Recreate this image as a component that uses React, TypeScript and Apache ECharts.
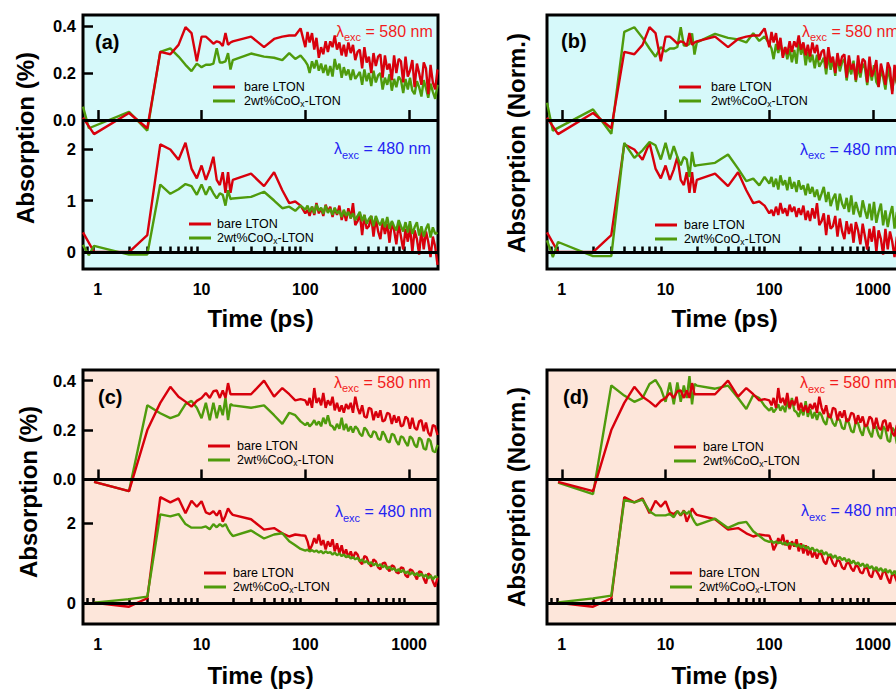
import React, { useEffect, useRef } from 'react';
import * as echarts from 'echarts';

// ---------- data ----------
const TIME_PS = [
  0.72, 0.82, 0.92, 2, 3, 4, 5, 6, 7, 8, 9, 10,
  11, 12, 13, 14, 15, 16, 17, 18, 19, 20,
  30, 40, 50, 60, 70, 80, 90, 100,
  105, 110, 116, 122, 128, 135, 142, 149, 157, 165,
  174, 183, 192, 202, 213, 224, 235, 247, 260, 274,
  288, 303, 319, 335, 353, 371, 390, 410, 432, 454,
  478, 503, 529, 556, 585, 616, 648, 682, 717, 754,
  794, 835, 878, 924, 972, 1020, 1075, 1130, 1190, 1250,
  1315, 1385, 1455, 1530, 1610, 1695, 1785, 1880,
];

// panel (a)/(b), lambda_exc = 580 nm, absorption (%)
const A_TOP_RED = [
  0.01, null, -0.06, 0.03, -0.035, 0.29, 0.28, 0.32, 0.395, 0.37, 0.25, 0.355,
  0.355, 0.34, 0.325, 0.335, 0.33, 0.315, 0.37, 0.32, 0.33, 0.335,
  0.355, 0.31, 0.345, 0.355, 0.36, 0.36, 0.39, 0.31,
  0.375, 0.33, 0.37, 0.30, 0.35, 0.265, 0.31, 0.28, 0.335, 0.29,
  0.335, 0.31, 0.36, 0.30, 0.33, 0.275, 0.32, 0.27, 0.33, 0.285,
  0.32, 0.255, 0.29, 0.30, 0.22, 0.31, 0.245, 0.27, 0.20, 0.285,
  0.23, 0.27, 0.28, 0.18, 0.275, 0.215, 0.24, 0.17, 0.275, 0.20,
  0.26, 0.25, 0.16, 0.27, 0.185, 0.21, 0.255, 0.14, 0.24, 0.20,
  0.15, 0.245, 0.22, 0.11, 0.235, 0.16, 0.13, 0.215,
];
const A_TOP_GREEN = [
  0.057, -0.035, null, 0.035, -0.045, 0.29, 0.305, 0.27, 0.235, 0.208, 0.24, 0.225,
  0.235, 0.235, 0.24, 0.305, 0.245, 0.245, 0.25, 0.285, 0.215, 0.255,
  0.283, 0.27, 0.265, 0.255, 0.285, 0.26, 0.275, 0.25,
  0.235, 0.20, 0.25, 0.22, 0.255, 0.21, 0.24, 0.20, 0.235, 0.19,
  0.23, 0.185, 0.26, 0.215, 0.24, 0.18, 0.225, 0.19, 0.215, 0.17,
  0.215, 0.175, 0.19, 0.205, 0.15, 0.215, 0.165, 0.20, 0.145, 0.21,
  0.16, 0.19, 0.20, 0.13, 0.18, 0.15, 0.195, 0.125, 0.175, 0.14,
  0.185, 0.17, 0.115, 0.175, 0.13, 0.18, 0.125, 0.11, 0.165, 0.14,
  0.10, 0.17, 0.135, 0.095, 0.155, 0.12, 0.09, 0.15,
];
// panel (a)/(b), lambda_exc = 480 nm
const A_BOT_RED = [
  0.38, null, 0.0, 0.0, 0.33, 2.09, 1.99, 1.79, 2.12, 1.62, 1.43, 1.68,
  1.40, 1.60, 1.85, 1.40, 1.30, 1.55, 1.15, 1.55, 1.15, 1.40,
  1.52, 1.28, 1.55, 1.20, 0.95, 0.98, 0.90, 0.75,
  0.82, 0.70, 0.88, 0.72, 0.95, 0.75, 0.85, 0.70, 0.92, 0.78,
  0.88, 0.68, 0.85, 0.72, 0.90, 0.62, 0.80, 0.60, 0.85, 0.65,
  0.95, 0.52, 0.60, 0.75, 0.33, 0.72, 0.45, 0.50, 0.70, 0.30,
  0.65, 0.40, 0.25, 0.60, 0.35, 0.55, 0.18, 0.58, 0.42, 0.15,
  0.55, 0.30, 0.05, 0.45, 0.20, 0.50, 0.00, 0.42, 0.25, -0.05,
  0.45, 0.05, 0.40, 0.20, -0.10, 0.30, 0.10, -0.25,
];
const A_BOT_GREEN = [
  0.14, -0.06, 0.12, -0.05, -0.05, 1.31, 1.13, 1.22, 1.32, 1.28, 1.11, 1.31,
  1.11, 1.27, 1.14, 1.04, 1.14, 1.11, 0.90, 1.20, 1.03, 1.04,
  1.07, 1.17, 1.00, 0.85, 0.88, 0.80, 0.90, 0.82,
  0.90, 0.78, 0.88, 0.75, 0.92, 0.80, 0.86, 0.74, 0.90, 0.76,
  0.84, 0.72, 0.86, 0.75, 0.80, 0.68, 0.82, 0.70, 0.78, 0.66,
  0.75, 0.62, 0.70, 0.78, 0.60, 0.72, 0.55, 0.64, 0.70, 0.50,
  0.70, 0.58, 0.52, 0.65, 0.48, 0.68, 0.45, 0.60, 0.50, 0.42,
  0.62, 0.50, 0.40, 0.58, 0.38, 0.60, 0.35, 0.48, 0.58, 0.32,
  0.50, 0.30, 0.45, 0.55, 0.28, 0.48, 0.35, 0.38,
];
// panel (c)/(d), lambda_exc = 580 nm
const C_TOP_RED = [
  null, null, -0.01, -0.047, 0.20, 0.31, 0.375, 0.335, 0.315, 0.295, 0.318, 0.33,
  0.35, 0.33, 0.357, 0.36, 0.33, 0.36, 0.33, 0.39, 0.345, 0.345,
  0.345, 0.40, 0.335, 0.37, 0.345, 0.32, 0.325, 0.32,
  0.30, 0.33, 0.29, 0.37, 0.31, 0.33, 0.30, 0.35, 0.29, 0.32,
  0.30, 0.335, 0.28, 0.31, 0.275, 0.30, 0.27, 0.305, 0.285, 0.31,
  0.27, 0.335, 0.29, 0.265, 0.30, 0.255, 0.25, 0.29, 0.285, 0.24,
  0.275, 0.25, 0.28, 0.235, 0.24, 0.27, 0.265, 0.225, 0.26, 0.23,
  0.255, 0.215, 0.22, 0.255, 0.245, 0.205, 0.25, 0.21, 0.20, 0.235,
  0.24, 0.195, 0.23, 0.19, 0.175, 0.22, 0.215, 0.18,
];
const C_TOP_GREEN = [
  null, null, -0.01, -0.047, 0.30, 0.268, 0.248, 0.26, 0.305, 0.318, 0.29, 0.248,
  0.31, 0.24, 0.31, 0.248, 0.30, 0.26, 0.33, 0.24, 0.305, 0.30,
  0.29, 0.30, 0.26, 0.225, 0.27, 0.26, 0.235, 0.22,
  0.23, 0.215, 0.225, 0.24, 0.22, 0.235, 0.215, 0.25, 0.225, 0.26,
  0.22, 0.215, 0.20, 0.225, 0.205, 0.25, 0.20, 0.225, 0.195, 0.215,
  0.19, 0.215, 0.205, 0.185, 0.175, 0.21, 0.20, 0.18, 0.17, 0.195,
  0.19, 0.165, 0.16, 0.195, 0.18, 0.155, 0.15, 0.185, 0.18, 0.155,
  0.14, 0.175, 0.17, 0.15, 0.135, 0.175, 0.165, 0.14, 0.13, 0.17,
  0.16, 0.125, 0.12, 0.165, 0.155, 0.115, 0.11, 0.14,
];
// panel (c)/(d), lambda_exc = 480 nm
const C_BOT_RED = [
  null, null, 0.02, -0.08, 0.13, 2.65, 2.52, 2.62, 2.25, 2.56, 2.41, 2.55,
  2.27, 2.23, 2.30, 2.19, 2.32, 2.04, 2.19, 2.37, 2.27, 2.21,
  2.10, 1.84, 1.88, 1.75, 1.67, 1.72, 1.70, 1.69,
  1.55, 1.33, 1.45, 1.63, 1.50, 1.72, 1.45, 1.58, 1.35, 1.55,
  1.42, 1.60, 1.30, 1.50, 1.25, 1.45, 1.20, 1.35, 1.15, 1.30,
  1.12, 1.28, 1.22, 1.05, 0.98, 1.18, 1.15, 1.00, 0.92, 1.10,
  1.05, 0.90, 0.85, 1.00, 1.02, 0.88, 0.80, 0.95, 0.92, 0.78,
  0.75, 0.90, 0.88, 0.70, 0.65, 0.85, 0.82, 0.72, 0.60, 0.80,
  0.78, 0.62, 0.50, 0.75, 0.70, 0.55, 0.42, 0.65,
];
const C_BOT_GREEN = [
  null, null, 0.02, 0.11, 0.17, 2.22, 2.17, 2.23, 1.98, 1.89, 1.89, 1.89,
  1.92, 1.85, 1.98, 1.90, 1.98, 1.92, 1.98, 1.85, 1.75, 1.68,
  1.82, 1.62, 1.72, 1.75, 1.55, 1.45, 1.36, 1.32,
  1.34, 1.30, 1.33, 1.29, 1.32, 1.27, 1.31, 1.25, 1.30, 1.26,
  1.28, 1.22, 1.27, 1.20, 1.25, 1.18, 1.22, 1.15, 1.20, 1.12,
  1.16, 1.10, 1.14, 1.05, 1.10, 1.02, 1.06, 0.98, 1.03, 0.95,
  1.00, 0.93, 0.98, 0.90, 0.95, 0.86, 0.92, 0.84, 0.88, 0.80,
  0.86, 0.78, 0.84, 0.75, 0.80, 0.72, 0.78, 0.70, 0.76, 0.68,
  0.74, 0.66, 0.72, 0.62, 0.70, 0.60, 0.68, 0.64,
];

// normalisation peaks used for (b) and (d): [bare, CoOx]
const PEAK_A_TOP = [0.395, 0.305];
const PEAK_A_BOT = [2.12, 1.31];
const PEAK_C_TOP = [0.38, 0.30];
const PEAK_C_BOT = [2.65, 2.28];

const MAJOR_TICKS = [1, 10, 100, 1000];
const MINOR_TICKS = [0.8, 0.9, 2, 3, 4, 5, 6, 7, 8, 9, 20, 30, 40, 50, 60, 70, 80, 90, 200, 300, 400, 500, 600, 700, 800, 900];
const TOP_TICKS = [0, 0.2, 0.4];
const A_BOT_TICKS = [0, 1, 2];
const C_BOT_TICKS = [0, 2];

const RED_NAME = 'bare LTON';
const GREEN_NAME = '2wt%CoOx-LTON';

// ---------- styles ----------
const FONT = "'Liberation Sans', Arial, Helvetica, sans-serif";
const RED = '#d8000c';
const GREEN = '#4f9b0c';
const RED_TEXT = '#f21c1c';
const BLUE_TEXT = '#2424f2';
const CYAN_BG = '#d6f9fa';
const PEACH_BG = '#fde6da';
const X_MIN = 0.72;
const X_MAX = 1900;
const W = 355;
const H = 254;

const norm = (arr: (number | null)[], p: number) => arr.map((v) => (v == null ? null : v / p));
const pairs = (arr: (number | null)[]) => TIME_PS.map((t, i) => [t, arr[i] == null ? null : arr[i]]);

const A_TOP_RANGE = [-0.634, 0.447];
const A_BOT_RANGE = [-0.33, 4.602];
const C_TOP_RANGE = [-0.585, 0.443];
const C_BOT_RANGE = [-0.511, 5.82];

const PANELS = [
  {
    key: 'a', left: 83, top: 15, bg: CYAN_BG, showY: true, nameGap: 37,
    topRange: A_TOP_RANGE, botRange: A_BOT_RANGE, botTicks: A_BOT_TICKS,
    topData: [A_TOP_RED, A_TOP_GREEN], botData: [A_BOT_RED, A_BOT_GREEN],
    legTop: { left: 213, top: 80, pad: 4 }, legBot: { left: 189, top: 217, pad: 1 },
    lamTop: [336, 31], lamBot: [334, 148.5], label: [95, 41.5], ytitle: 'Absorption (%)', ytitlePos: [25, 138],
  },
  {
    key: 'b', left: 547, top: 15, bg: CYAN_BG, showY: false, nameGap: 37,
    topRange: A_TOP_RANGE.map((v) => v / PEAK_A_TOP[0]), botRange: A_BOT_RANGE.map((v) => v / PEAK_A_BOT[0]), botTicks: [],
    topData: [norm(A_TOP_RED, PEAK_A_TOP[0]), norm(A_TOP_GREEN, PEAK_A_TOP[1])],
    botData: [norm(A_BOT_RED, PEAK_A_BOT[0]), norm(A_BOT_GREEN, PEAK_A_BOT[1])],
    legTop: { left: 679, top: 80, pad: 5 }, legBot: { left: 655, top: 218, pad: 2 },
    lamTop: [802, 31], lamBot: [800, 149], label: [561, 40.5], ytitle: 'Absorption (Norm.)', ytitlePos: [516, 143],
  },
  {
    key: 'c', left: 83, top: 370, bg: PEACH_BG, showY: true, nameGap: 39,
    topRange: C_TOP_RANGE, botRange: C_BOT_RANGE, botTicks: C_BOT_TICKS,
    topData: [C_TOP_RED, C_TOP_GREEN], botData: [C_BOT_RED, C_BOT_GREEN],
    legTop: { left: 208, top: 439, pad: 2 }, legBot: { left: 204, top: 566, pad: 2 },
    lamTop: [334, 382], lamBot: [335, 511.5], label: [98, 396.5], ytitle: 'Absorption (%)', ytitlePos: [28, 492],
  },
  {
    key: 'd', left: 547, top: 370, bg: PEACH_BG, showY: false, nameGap: 39,
    topRange: C_TOP_RANGE.map((v) => v / PEAK_C_TOP[0]), botRange: C_BOT_RANGE.map((v) => v / PEAK_C_BOT[0]), botTicks: [],
    topData: [norm(C_TOP_RED, PEAK_C_TOP[0]), norm(C_TOP_GREEN, PEAK_C_TOP[1])],
    botData: [norm(C_BOT_RED, PEAK_C_BOT[0]), norm(C_BOT_GREEN, PEAK_C_BOT[1])],
    legTop: { left: 674, top: 440, pad: 2 }, legBot: { left: 670, top: 566, pad: 2 },
    lamTop: [800, 382.5], lamBot: [801, 510.5], label: [563, 396.5], ytitle: 'Absorption (Norm.)', ytitlePos: [516, 497],
  },
];

function buildOption() {
  const grid: any[] = [];
  const xAxis: any[] = [];
  const yAxis: any[] = [];
  const series: any[] = [];
  const legend: any[] = [];
  const graphic: any[] = [];

  const zeroLine = {
    silent: true,
    symbol: ['none', 'none'],
    label: { show: false },
    lineStyle: { color: '#000', width: 3, type: 'solid' },
    data: [{ yAxis: 0 }],
  };

  PANELS.forEach((p, i) => {
    grid.push({
      left: p.left, top: p.top, width: W, height: H,
      outerBoundsMode: 'none', containLabel: false,
      show: true, backgroundColor: p.bg, borderColor: '#000', borderWidth: 3,
    });
    // major ticks + labels
    xAxis.push({
      gridIndex: i, type: 'log', logBase: 10, min: X_MIN, max: X_MAX, position: 'bottom',
      axisLine: { show: false }, splitLine: { show: false },
      axisTick: { show: true, inside: true, length: 10, lineStyle: { color: '#000', width: 2.5 }, customValues: MAJOR_TICKS },
      axisLabel: {
        show: true, customValues: MAJOR_TICKS, formatter: (v: number) => String(Math.round(v)),
        fontSize: 16, fontWeight: 'bold', fontFamily: FONT, color: '#000', margin: 12,
      },
      name: 'Time (ps)', nameLocation: 'middle', nameGap: p.nameGap,
      nameTextStyle: { fontSize: 24, fontWeight: 'bold', fontFamily: FONT, color: '#000' },
    });
    // minor ticks
    xAxis.push({
      gridIndex: i, type: 'log', logBase: 10, min: X_MIN, max: X_MAX, position: 'bottom',
      axisLine: { show: false }, splitLine: { show: false },
      axisTick: { show: true, inside: true, length: 5.5, lineStyle: { color: '#000', width: 2.5 }, customValues: MINOR_TICKS },
      axisLabel: { show: false },
    });
    const yCommon = (range: number[], ticks: number[], fmt: (v: number) => string) => ({
      gridIndex: i, type: 'value', min: range[0], max: range[1], position: 'left',
      axisLine: { show: false }, splitLine: { show: false },
      axisTick: p.showY
        ? { show: true, inside: true, length: 10, lineStyle: { color: '#000', width: 2.5 }, customValues: ticks }
        : { show: false },
      axisLabel: p.showY
        ? { show: true, customValues: ticks, formatter: fmt, fontSize: 16.5, fontWeight: 'bold', fontFamily: FONT, color: '#000', margin: 7 }
        : { show: false },
    });
    yAxis.push(yCommon(p.topRange, TOP_TICKS, (v) => v.toFixed(1)));
    yAxis.push(yCommon(p.botRange, p.botTicks, (v) => String(Math.round(v))));

    const xi = i * 2;
    const yt = i * 2;
    const yb = i * 2 + 1;
    const mk = (name: string, color: string, data: any, yIdx: number, withZero: boolean, z: number) => ({
      type: 'line', name, xAxisIndex: xi, yAxisIndex: yIdx, data: pairs(data),
      showSymbol: false, symbol: 'none', connectNulls: true, z,
      lineStyle: { color, width: 2.4 }, itemStyle: { color },
      markLine: withZero ? zeroLine : undefined,
    });
    series.push(mk(GREEN_NAME, GREEN, p.topData[1], yt, false, 2));
    series.push(mk(RED_NAME, RED, p.topData[0], yt, true, 3));
    series.push(mk(RED_NAME, RED, p.botData[0], yb, true, 2));
    series.push(mk(GREEN_NAME, GREEN, p.botData[1], yb, false, 3));

    const mkLegend = (pos: { left: number; top: number; pad: number }) => ({
      orient: 'vertical', left: pos.left, top: pos.top, padding: 0, itemGap: 0,
      itemWidth: 22, itemHeight: 3, icon: 'rect', selectedMode: false,
      data: [RED_NAME, GREEN_NAME],
      formatter: (n: string) => (n === GREEN_NAME ? '2wt%CoO{sub|x}-LTON' : n),
      textStyle: {
        fontSize: 12.5, fontFamily: FONT, color: '#000', lineHeight: 14, padding: [0, 0, 0, pos.pad],
        rich: { sub: { fontSize: 8.5, lineHeight: 8, verticalAlign: 'bottom', fontFamily: FONT, color: '#000' } },
      },
    });
    legend.push(mkLegend(p.legTop));
    legend.push(mkLegend(p.legBot));

    const lam = (pos: number[], nm: string, color: string) => ({
      type: 'text', x: pos[0], y: pos[1], z: 50,
      style: {
        text: `{m|λ}{s|exc}{m| = ${nm} nm}`,
        verticalAlign: 'middle', align: 'left',
        rich: {
          m: { fontSize: 16, fontFamily: FONT, fill: color, color, lineHeight: 23 },
          s: { fontSize: 11, fontFamily: FONT, fill: color, color, lineHeight: 11, verticalAlign: 'bottom' },
        },
      },
    });
    graphic.push(lam(p.lamTop, '580', RED_TEXT));
    graphic.push(lam(p.lamBot, '480', BLUE_TEXT));
    graphic.push({
      type: 'text', x: p.label[0], y: p.label[1], z: 50,
      style: { text: `(${p.key})`, font: `bold 20px ${FONT}`, fill: '#000', verticalAlign: 'middle', align: 'left' },
    });
    graphic.push({
      type: 'text', x: p.ytitlePos[0], y: p.ytitlePos[1], rotation: Math.PI / 2, z: 50,
      style: { text: p.ytitle, font: `bold 24px ${FONT}`, fill: '#000', verticalAlign: 'middle', align: 'center' },
    });
  });

  return { animation: false, backgroundColor: '#fff', grid, xAxis, yAxis, series, legend, graphic };
}

export default function App() {
  const ref = useRef<HTMLDivElement>(null);
  useEffect(() => {
    if (!ref.current) return;
    const chart = echarts.init(ref.current, undefined, { renderer: 'svg' });
    chart.setOption(buildOption() as any);
    return () => chart.dispose();
  }, []);
  return (
    <div
      ref={ref}
      style={{ position: 'fixed', left: 0, top: 0, width: 896, height: 689, overflow: 'hidden', background: '#fff' }}
    />
  );
}
